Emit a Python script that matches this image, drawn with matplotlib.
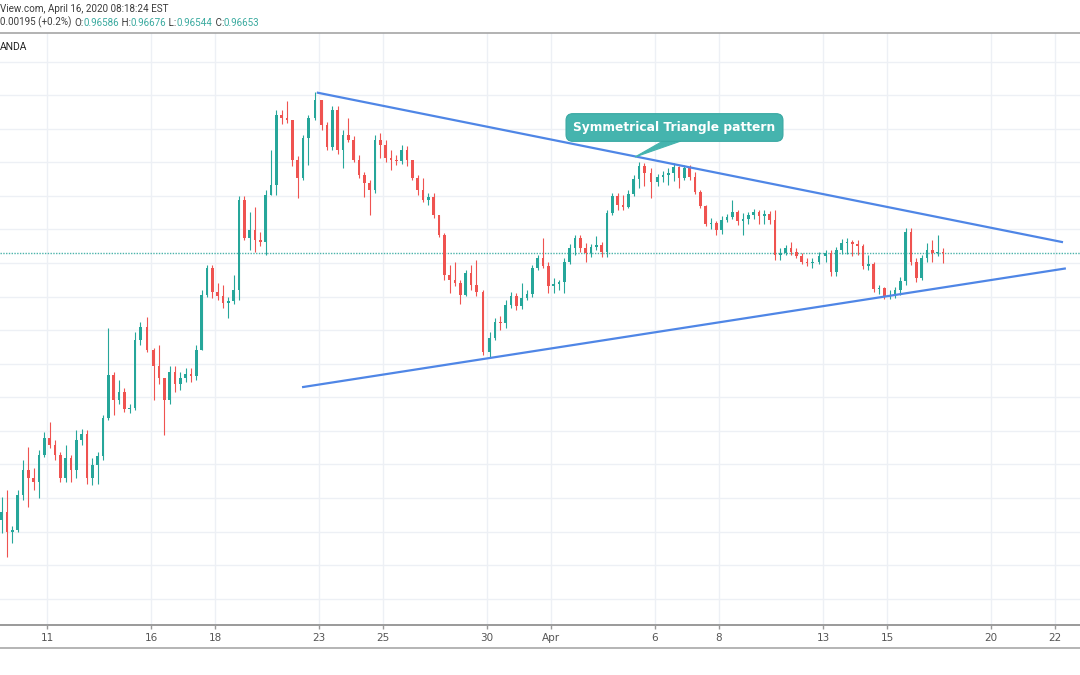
import matplotlib.pyplot as plt
import numpy as np
import pandas as pd
from matplotlib.patches import Polygon


# 4H candles, USD/CHF (OANDA).
# Open of each bar = close of the previous bar.
first_open = 0.9267

closes = [
    0.9279, 0.9249, 0.9252,                                  # Mar 9 (last 3 bars)
    0.9304, 0.9342, 0.9330, 0.9324, 0.9364, 0.9389,          # Mar 10
    0.9379, 0.9364, 0.9330, 0.9359, 0.9342, 0.9386,          # Mar 11
    0.9395, 0.9330, 0.9349, 0.9362, 0.9419, 0.9483,          # Mar 12
    0.9446, 0.9458, 0.9432, 0.9434, 0.9535, 0.9555,          # Mar 13
    0.9520,                                                  # Sunday open
    0.9497, 0.9479, 0.9446, 0.9488, 0.9470, 0.9479,          # Mar 16
    0.9485, 0.9482, 0.9520, 0.9602, 0.9643, 0.9607,          # Mar 17
    0.9601, 0.9590, 0.9593, 0.9610, 0.9744, 0.9687,          # Mar 18
    0.9699, 0.9684, 0.9681, 0.9751, 0.9766, 0.9871,          # Mar 19
    0.9866, 0.9863, 0.9804, 0.9777, 0.9836, 0.9866,          # Mar 20
    0.9893,                                                  # Sunday open
    0.9856, 0.9823, 0.9878, 0.9818, 0.9841, 0.9833,          # Mar 23
    0.9804, 0.9781, 0.9769, 0.9759, 0.9833, 0.9826,          # Mar 24
    0.9806, 0.9804, 0.9802, 0.9818, 0.9804, 0.9777,          # Mar 25
    0.9759, 0.9744, 0.9748, 0.9722, 0.9692, 0.9632,          # Mar 26
    0.9625, 0.9620, 0.9602, 0.9635, 0.9617, 0.9607,          # Mar 27
    0.9517,                                                  # Sunday open
    0.9538, 0.9562, 0.9560, 0.9587, 0.9601, 0.9586,          # Mar 30
    0.9598, 0.9604, 0.9643, 0.9657, 0.9646, 0.9616,          # Mar 31
    0.9619, 0.9621, 0.9652, 0.9672, 0.9687, 0.9672,          # Apr 1
    0.9665, 0.9674, 0.9677, 0.9666, 0.9725, 0.9750,          # Apr 2
    0.9736, 0.9734, 0.9753, 0.9775, 0.9795, 0.9784,          # Apr 3
    0.9771,                                                  # Sunday open
    0.9778, 0.9781, 0.9784, 0.9793, 0.9777, 0.9792,          # Apr 6
    0.9778, 0.9756, 0.9735, 0.9708, 0.9710, 0.9699,          # Apr 7
    0.9714, 0.9719, 0.9726, 0.9713, 0.9716, 0.9722,          # Apr 8
    0.9726, 0.9720, 0.9723, 0.9714, 0.9662, 0.9665,          # Apr 9
    0.9672, 0.9666, 0.9660, 0.9652, 0.9650, 0.9652,          # Apr 10
    0.9660,                                                  # Sunday open
    0.9665, 0.9637, 0.9669, 0.9680, 0.9682, 0.9678,          # Apr 13
    0.9675, 0.9646, 0.9648, 0.9611, 0.9613, 0.9601,          # Apr 14
    0.9602, 0.9610, 0.9623, 0.9696, 0.9652, 0.9628,          # Apr 15
    0.9657, 0.9669, 0.9665, 0.9666, 0.9665,                  # Apr 16
]

highs = [
    0.9301, 0.9312, 0.9258,
    0.9312, 0.9357, 0.9376, 0.9345, 0.9371, 0.9398,
    0.9413, 0.9386, 0.9368, 0.9379, 0.9364, 0.9401,
    0.9403, 0.9401, 0.9359, 0.9368, 0.9424, 0.9553,
    0.9488, 0.9476, 0.9464, 0.9440, 0.9547, 0.9562,
    0.9570,
    0.9523, 0.9528, 0.9479, 0.9497, 0.9497, 0.9488,
    0.9494, 0.9494, 0.9528, 0.9610, 0.9647, 0.9647,
    0.9620, 0.9617, 0.9599, 0.9632, 0.9750, 0.9750,
    0.9726, 0.9733, 0.9696, 0.9759, 0.9818, 0.9878,
    0.9878, 0.9891, 0.9863, 0.9809, 0.9841, 0.9871,
    0.9905,
    0.9893, 0.9860, 0.9884, 0.9884, 0.9848, 0.9866,
    0.9839, 0.9811, 0.9786, 0.9774, 0.9841, 0.9844,
    0.9833, 0.9818, 0.9811, 0.9826, 0.9824, 0.9804,
    0.9781, 0.9777, 0.9754, 0.9754, 0.9722, 0.9695,
    0.9647, 0.9652, 0.9625, 0.9640, 0.9647, 0.9655,
    0.9610,
    0.9547, 0.9568, 0.9571, 0.9595, 0.9607, 0.9605,
    0.9620, 0.9610, 0.9647, 0.9662, 0.9687, 0.9652,
    0.9628, 0.9625, 0.9657, 0.9678, 0.9692, 0.9692,
    0.9680, 0.9678, 0.9690, 0.9681, 0.9729, 0.9754,
    0.9754, 0.9751, 0.9759, 0.9781, 0.9801, 0.9799,
    0.9792,
    0.9783, 0.9787, 0.9792, 0.9799, 0.9795, 0.9796,
    0.9796, 0.9786, 0.9759, 0.9736, 0.9717, 0.9713,
    0.9720, 0.9723, 0.9744, 0.9729, 0.9725, 0.9726,
    0.9730, 0.9729, 0.9729, 0.9728, 0.9729, 0.9672,
    0.9677, 0.9681, 0.9672, 0.9665, 0.9657, 0.9657,
    0.9666,
    0.9669, 0.9669, 0.9674, 0.9686, 0.9687, 0.9684,
    0.9684, 0.9678, 0.9662, 0.9652, 0.9617, 0.9614,
    0.9610, 0.9614, 0.9629, 0.9702, 0.9702, 0.9657,
    0.9662, 0.9680, 0.9684, 0.9692, 0.9672,
]

lows = [
    0.9248, 0.9212, 0.9233,
    0.9249, 0.9297, 0.9286, 0.9312, 0.9300, 0.9361,
    0.9374, 0.9357, 0.9324, 0.9324, 0.9324, 0.9330,
    0.9379, 0.9321, 0.9319, 0.9321, 0.9357, 0.9416,
    0.9424, 0.9440, 0.9428, 0.9427, 0.9431, 0.9528,
    0.9517,
    0.9446, 0.9470, 0.9394, 0.9440, 0.9458, 0.9461,
    0.9473, 0.9473, 0.9476, 0.9520, 0.9600, 0.9598,
    0.9595, 0.9583, 0.9568, 0.9589, 0.9595, 0.9684,
    0.9669, 0.9666, 0.9675, 0.9662, 0.9751, 0.9751,
    0.9857, 0.9859, 0.9795, 0.9747, 0.9774, 0.9796,
    0.9863,
    0.9848, 0.9818, 0.9818, 0.9812, 0.9792, 0.9830,
    0.9801, 0.9777, 0.9748, 0.9722, 0.9755, 0.9806,
    0.9801, 0.9789, 0.9796, 0.9798, 0.9795, 0.9774,
    0.9751, 0.9741, 0.9736, 0.9717, 0.9689, 0.9625,
    0.9605, 0.9616, 0.9589, 0.9601, 0.9610, 0.9601,
    0.9513,
    0.9510, 0.9535, 0.9550, 0.9553, 0.9583, 0.9580,
    0.9581, 0.9595, 0.9599, 0.9640, 0.9643, 0.9605,
    0.9605, 0.9610, 0.9605, 0.9649, 0.9662, 0.9666,
    0.9652, 0.9659, 0.9669, 0.9659, 0.9659, 0.9722,
    0.9729, 0.9729, 0.9732, 0.9750, 0.9762, 0.9765,
    0.9747,
    0.9765, 0.9771, 0.9766, 0.9772, 0.9762, 0.9774,
    0.9774, 0.9753, 0.9732, 0.9705, 0.9701, 0.9692,
    0.9693, 0.9711, 0.9716, 0.9707, 0.9692, 0.9708,
    0.9716, 0.9708, 0.9708, 0.9708, 0.9655, 0.9655,
    0.9662, 0.9662, 0.9657, 0.9649, 0.9646, 0.9643,
    0.9649,
    0.9652, 0.9631, 0.9631, 0.9663, 0.9663, 0.9660,
    0.9662, 0.9641, 0.9640, 0.9607, 0.9604, 0.9596,
    0.9596, 0.9598, 0.9602, 0.9617, 0.9647, 0.9622,
    0.9625, 0.9652, 0.9652, 0.9660, 0.9650,
]

last_price = 0.96653

# trend lines drawn on the chart: (trading-day position, price)
upper_line_pos = [10.43, 33.75]
upper_line_price = [0.9904, 0.9681]
lower_line_pos = [9.97, 33.84]
lower_line_price = [0.9465, 0.9642]

tick_dates = ["2020-03-11", "2020-03-16", "2020-03-18", "2020-03-23", "2020-03-25",
              "2020-03-30", "2020-04-01", "2020-04-06", "2020-04-08", "2020-04-13",
              "2020-04-15", "2020-04-20", "2020-04-22"]
tick_labels = ["11", "16", "18", "23", "25", "30", "Apr", "6", "8", "13", "15", "20", "22"]

header_line1 = "View.com, April 16, 2020 08:18:24 EST"
header_line2 = [("0.00195 (+0.2%) ", "dark"), ("O:", "dark"), ("0.96586", "value"),
                (" H:", "dark"), ("0.96676", "value"), (" L:", "dark"), ("0.96544", "value"),
                (" C:", "dark"), ("0.96653", "value")]
symbol_text = "ANDA"
callout_text = "Symmetrical Triangle pattern"

UP = "#26a69a"
DOWN = "#ef5350"
GRID = "#edf0f5"
TREND = "#4f86e6"
DARK = "#3c3c3c"
VALUE = "#3aaa9f"
HEADER_FONT = "Roboto"
HEADER_SIZE = 7.1

# ------------------------------------------------------------
# time axis: one unit per trading day, small gap over weekends
# ------------------------------------------------------------
WEEKEND_GAP = 0.25
all_days = pd.bdate_range("2020-03-09", "2020-04-22")
day_pos = {}
weekends = 0
for i, d in enumerate(all_days):
    if i > 0 and d.weekday() == 0:
        weekends += 1
    day_pos[d] = i + WEEKEND_GAP * weekends

chart_days = pd.bdate_range("2020-03-09", "2020-04-16")
bar_x = []
for d in chart_days:
    if d.weekday() == 0 and d != chart_days[0]:
        bar_x.append(day_pos[d] - WEEKEND_GAP / 2)  # Sunday evening bar
    start = 3 if d == chart_days[0] else 0
    stop = 5 if d == chart_days[-1] else 6
    for j in range(start, stop):
        bar_x.append(day_pos[d] + (j + 0.5) / 6)

bar_x = np.array(bar_x)
closes = np.array(closes)
opens = np.concatenate([[first_open], closes[:-1]])
highs = np.maximum(np.array(highs), np.maximum(opens, closes))
lows = np.minimum(np.array(lows), np.minimum(opens, closes))
assert len(bar_x) == len(closes) == len(highs) == len(lows)

# ------------------------------------------------------------
# figure
# ------------------------------------------------------------
W, H = 1080, 675
fig = plt.figure(figsize=(W / 100, H / 100), dpi=100)
fig.patch.set_facecolor("white")

ax_top, ax_bottom = 33, 625
ax_h = ax_bottom - ax_top
ax = fig.add_axes([0, (H - ax_bottom) / H, 1, ax_h / H])
ax.set_facecolor("white")

ax.set_xlim(2 - 47 / 32, 2 + 1033 / 32)
ax.set_ylim(0.91107, 0.99927)

for p in np.arange(0.915, 0.9951, 0.005):
    ax.axhline(p, color=GRID, lw=1, zorder=0)
tick_x = [day_pos[pd.Timestamp(t)] for t in tick_dates]
for x in tick_x:
    ax.axvline(x, color=GRID, lw=1, zorder=0)

# candles
up = closes >= opens
colors = np.where(up, UP, DOWN)
ax.vlines(bar_x, lows, highs, colors=colors, lw=0.8, zorder=2)
body = closes - opens
min_body = 0.00010
body = np.where(np.abs(body) < min_body, np.where(body >= 0, min_body, -min_body), body)
ax.bar(bar_x, body, bottom=opens, width=0.09, color=colors, linewidth=0, zorder=3)

# last price line
ax.axhline(last_price, color="#4bb3aa", lw=1, linestyle=(0, (1, 1)), zorder=1)

# triangle lines
ax.plot(upper_line_pos, upper_line_price, color=TREND, lw=1.6, zorder=4,
        solid_capstyle="butt")
ax.plot(lower_line_pos, lower_line_price, color=TREND, lw=1.6, zorder=4,
        solid_capstyle="butt")

# callout with its pointer
callout_fc = "#45b4ae"
pointer = [(663 / W, (ax_bottom - 141) / ax_h), (681 / W, (ax_bottom - 141) / ax_h),
           (635 / W, (ax_bottom - 157) / ax_h)]
ax.add_patch(Polygon(pointer, closed=True, transform=ax.transAxes, fc=callout_fc,
                     ec=callout_fc, lw=0.8, zorder=5))
ax.text(674.5 / W, (ax_bottom - 127.5) / ax_h, callout_text, transform=ax.transAxes,
        ha="center", va="center", color="white", fontsize=8.8, fontweight="bold",
        zorder=6,
        bbox=dict(boxstyle="round,pad=0.6,rounding_size=0.55", fc=callout_fc,
                  ec="#38a8a2", lw=0.8))

# axes frame
for side in ["left", "right"]:
    ax.spines[side].set_visible(False)
ax.spines["top"].set_color("#a5a5a5")
ax.spines["top"].set_linewidth(1.2)
ax.spines["bottom"].set_color("#9a9a9a")
ax.spines["bottom"].set_linewidth(1.4)
ax.set_yticks([])
ax.set_xticks(tick_x)
ax.set_xticklabels(tick_labels)
ax.tick_params(axis="x", length=3, width=1, color="#9a9a9a", pad=3,
               labelsize=7.5, labelcolor="#555555")

fig.add_artist(plt.Line2D([0, 1], [(H - 648) / H] * 2, color="#a8a8a8", lw=1.2,
                          transform=fig.transFigure))

# header texts
fig.text(0.0, 1 - 9 / H, header_line1, ha="left", va="center", family=HEADER_FONT,
         fontsize=HEADER_SIZE, color=DARK)
prev = fig.text(0.0, 1 - 22 / H, header_line2[0][0], ha="left", va="center",
                family=HEADER_FONT, fontsize=HEADER_SIZE, color=DARK)
for txt, kind in header_line2[1:]:
    col = VALUE if kind == "value" else DARK
    # each piece starts where the previous one ends
    prev = ax.annotate(txt, xy=(1, 0), xycoords=prev, ha="left", va="bottom",
                       family=HEADER_FONT, fontsize=HEADER_SIZE, color=col,
                       annotation_clip=False)
fig.text(0.0, 1 - 47 / H, symbol_text, ha="left", va="center", family=HEADER_FONT,
         fontsize=HEADER_SIZE + 0.4, color="#222222")

fig.savefig("out.png", dpi=100, facecolor="white")
